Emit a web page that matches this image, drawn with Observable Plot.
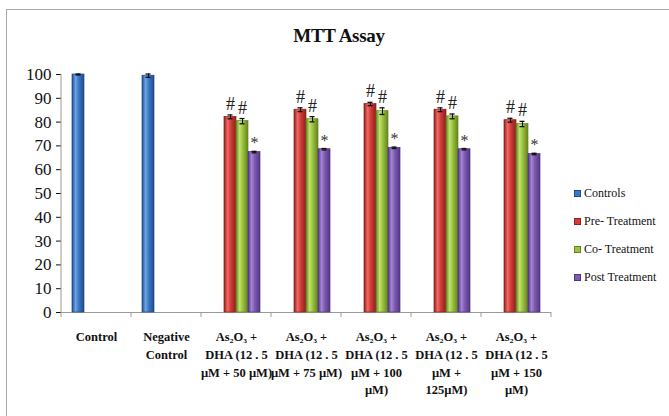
<!DOCTYPE html>
<html><head><meta charset="utf-8">
<script src="https://cdn.jsdelivr.net/npm/d3@7"></script>
<script src="https://cdn.jsdelivr.net/npm/@observablehq/plot@0.6"></script>
<style>
body{margin:0;background:#fff;}
#wrap{position:relative;width:669px;height:416px;overflow:hidden;font-family:"Liberation Serif","Times New Roman",serif;background:#fff;}
#frame{position:absolute;left:6px;top:9px;width:720px;height:520px;border:1px solid #a8a8a8;box-sizing:border-box;}
#chart{position:absolute;left:0;top:0;}
#title{position:absolute;left:0;width:678px;top:25px;text-align:center;font-weight:bold;font-size:19px;color:#111;letter-spacing:-0.3px;}
#legend{position:absolute;left:574px;top:179px;font-size:12px;color:#111;font-family:"Liberation Serif",serif;}
.item{height:28.2px;display:flex;align-items:center;white-space:nowrap;}
.sw{width:5px;height:5px;margin-right:3px;border:1px solid;}
#chart svg, #chart svg text{font-family:"Liberation Serif","Times New Roman",serif !important;}
#chart svg [aria-label="y-axis tick"]{stroke:#9a9a9a;}
#chart svg [aria-label="fx-axis tick label"]{font-weight:bold;}
</style>
</head><body>
<div id="wrap">
  <div id="frame"></div>
  <div id="chart"></div>
  <div id="title">MTT Assay</div>
  <div id="legend"></div>
</div>
<script>
// ---- data ----
const categories = [
  "Control",
  "Negative\nControl",
  "As₂O₃ +\nDHA (12 . 5\nµM + 50 µM)",
  "As₂O₃ +\nDHA (12 . 5\nµM + 75 µM)",
  "As₂O₃ +\nDHA (12 . 5\nµM + 100\nµM)",
  "As₂O₃ +\nDHA (12 . 5\nµM +\n125µM)",
  "As₂O₃ +\nDHA (12 . 5\nµM + 150\nµM)"
];
const series = ["Controls", "Pre- Treatment", "Co- Treatment", "Post Treatment"];
const controlCategories = categories.slice(0, 2);
const treatmentCategories = categories.slice(2);

const controlsValues = [100, 99.5];
const controlsErr    = [0.2, 0.7];
const preValues  = [82.2, 85.2, 87.6, 85.2, 80.8];
const preErr     = [0.8, 0.8, 0.7, 0.8, 0.8];
const coValues   = [80.4, 81.2, 84.6, 82.4, 79.2];
const coErr      = [1.1, 1.1, 1.4, 1.0, 1.1];
const postValues = [67.4, 68.6, 69.2, 68.6, 66.6];
const postErr    = [0.3, 0.3, 0.3, 0.3, 0.3];
const significance = ["", "#", "#", "*"];
const yTicks = [0, 10, 20, 30, 40, 50, 60, 70, 80, 90, 100];

const baseColors = ["#3b78c6", "#d23c3a", "#9cc33f", "#7e5bb2"];
const lightColors = ["#6fa3e6", "#ee6b66", "#c1e26e", "#a486d4"];
const edgeColors = ["#1f4c8a", "#8f1f1c", "#64841f", "#523685"];

// ---- table ----
const rows = [];
controlCategories.forEach((c, i) => rows.push({cat: c, series: series[0], value: controlsValues[i], err: controlsErr[i], mark: significance[0]}));
treatmentCategories.forEach((c, i) => {
  rows.push({cat: c, series: series[1], value: preValues[i], err: preErr[i], mark: significance[1]});
  rows.push({cat: c, series: series[2], value: coValues[i], err: coErr[i], mark: significance[2]});
  rows.push({cat: c, series: series[3], value: postValues[i], err: postErr[i], mark: significance[3]});
});

const barMarks = series.map((s, i) => Plot.barY(rows.filter(r => r.series === s), {
  fx: "cat", x: "series", y: "value",
  fill: `url(#grad${i})`, stroke: edgeColors[i], strokeWidth: 0.7
}));

const plot = Plot.plot({
  width: 669,
  height: 416,
  marginLeft: 59,
  marginRight: 117,
  marginTop: 74,
  marginBottom: 104,
  style: {fontFamily: "'Liberation Serif', 'Times New Roman', serif", color: "#111", background: "transparent"},
  fx: {domain: categories, padding: 0, label: null},
  x: {domain: series, paddingInner: 0, paddingOuter: 0.71, axis: null},
  y: {domain: [0, 100], label: null},
  marks: [
    Plot.ruleY([0], {stroke: "#9a9a9a"}),
    ...barMarks,
    Plot.ruleX(rows, {fx: "cat", x: "series", y1: d => d.value - d.err, y2: d => d.value + d.err, stroke: "#111", strokeWidth: 1}),
    Plot.tickY(rows, {fx: "cat", x: "series", y: d => d.value - d.err, stroke: "#111", insetLeft: 3.5, insetRight: 3.5, strokeWidth: 1.3}),
    Plot.tickY(rows, {fx: "cat", x: "series", y: d => d.value + d.err, stroke: "#111", insetLeft: 3.5, insetRight: 3.5, strokeWidth: 1.3}),
    Plot.text(rows.filter(r => r.mark === "#"), {fx: "cat", x: "series", y: d => d.value + d.err, text: "mark", lineAnchor: "bottom", dy: -5, fontSize: 18, fill: "#222"}),
    Plot.text(rows.filter(r => r.mark === "*"), {fx: "cat", x: "series", y: d => d.value + d.err, text: "mark", lineAnchor: "bottom", dy: -3, fontSize: 16, fill: "#333"}),
    Plot.axisY({ticks: yTicks, tickSize: 5, tickPadding: 5, fontSize: 17, label: null}),
    Plot.axisFx({anchor: "bottom", tickSize: 0, tickPadding: 16, fontSize: 12.5, lineHeight: 1.42, label: null, tickFormat: d => d})
  ]
});

// gradients for the cylinder-like bars
const svg = d3.select(plot);
const defs = svg.insert("defs", ":first-child");
series.forEach((s, i) => {
  const g = defs.append("linearGradient").attr("id", `grad${i}`).attr("x1", "0").attr("x2", "1").attr("y1", "0").attr("y2", "0");
  g.append("stop").attr("offset", "0%").attr("stop-color", edgeColors[i]);
  g.append("stop").attr("offset", "30%").attr("stop-color", lightColors[i]);
  g.append("stop").attr("offset", "55%").attr("stop-color", baseColors[i]);
  g.append("stop").attr("offset", "100%").attr("stop-color", edgeColors[i]);
});

// y axis line and category boundary ticks, from the library's scales
const fxs = plot.scale("fx"), ys = plot.scale("y");
const y0 = ys.apply(0), y100 = ys.apply(100);
const left = fxs.apply(categories[0]);
const bounds = categories.map(c => fxs.apply(c)).concat([fxs.apply(categories[categories.length - 1]) + fxs.bandwidth]);
const extra = svg.append("g").attr("stroke", "#9a9a9a");
extra.append("line").attr("x1", left).attr("x2", left).attr("y1", y0).attr("y2", y100);
bounds.forEach(b => extra.append("line").attr("x1", b).attr("x2", b).attr("y1", y0).attr("y2", y0 + 5));

document.getElementById("chart").appendChild(plot);

// legend
const legend = d3.select("#legend");
series.forEach((s, i) => {
  const it = legend.append("div").attr("class", "item");
  it.append("span").attr("class", "sw").style("background", baseColors[i]).style("border-color", edgeColors[i]);
  it.append("span").text(s);
});
</script>
</body></html>
